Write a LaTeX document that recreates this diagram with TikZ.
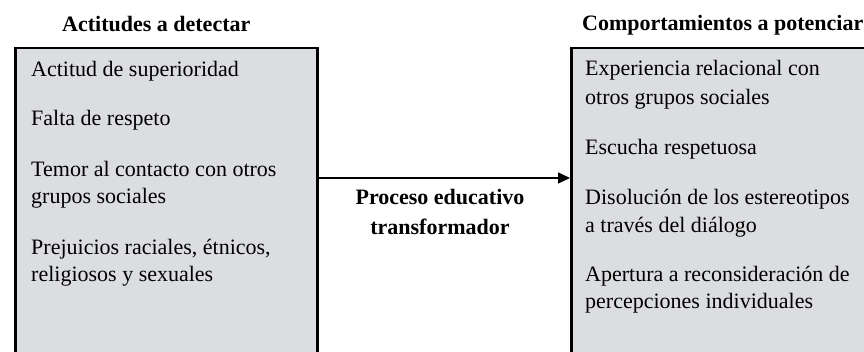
\documentclass[tikz,border=0pt]{standalone}
\usepackage{fontspec}
\setmainfont{Liberation Serif}
\usetikzlibrary{arrows.meta}
\definecolor{boxgray}{RGB}{220,221,224}
\tikzset{
    panel/.style={draw, line width=2.5pt, fill=boxgray, anchor=north west,
        minimum width=302pt, minimum height=340pt, inner sep=0pt},
    item/.style={anchor=base west, inner sep=0pt, font=\fontsize{22}{27}\selectfont},
    head/.style={item, font=\fontsize{22}{27}\selectfont\bfseries},
    flow/.style={line width=1.5pt, -{Triangle[length=12pt,width=11pt]}}
}
\begin{document}
\begin{tikzpicture}[x=1pt, y=1pt]
    \useasboundingbox (0,0) rectangle (864,352);
    \clip (0,0) rectangle (864,352);
    % the two panels
    \node[panel] (actitudes) at (14,305) {};
    \node[panel, minimum width=320pt] (comport) at (570,305) {};
    % headings
    \node[head] (tit-izq) at (62,352-32) {Actitudes a detectar};
    \node[head] (tit-der) at (582,352-31) {Comportamientos a potenciar};
    % left list
    \foreach \n/\y/\t in {1/77/Actitud de superioridad,
                          2/126/Falta de respeto,
                          3/177/Temor al contacto con otros,
                          4/204/grupos sociales,
                          5/255/{Prejuicios raciales, étnicos,},
                          6/282/religiosos y sexuales}
        \node[item] (izq-\n) at (31,352-\y) {\t};
    % right list
    \foreach \n/\y/\t in {1/76/Experiencia relacional con,
                          2/105/otros grupos sociales,
                          3/155/Escucha respetuosa,
                          4/205/Disolución de los estereotipos,
                          5/233/a través del diálogo,
                          6/282/Apertura a reconsideración de,
                          7/309/percepciones individuales}
        \node[item] (der-\n) at (585,352-\y) {\t};
    % arrow and its label
    \coordinate (nivel) at (0,352-178);
    \draw[flow] (actitudes.east |- nivel) -- (comport.west |- nivel);
    \node[head, anchor=base] (proc-1) at (440,352-205) {Proceso educativo};
    \node[head, anchor=base] (proc-2) at (440,352-235) {transformador};
\end{tikzpicture}
\end{document}
